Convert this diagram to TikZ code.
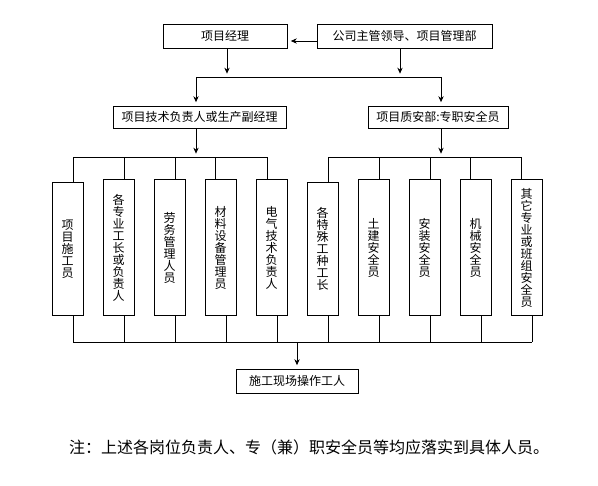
\documentclass[tikz,border=0pt]{standalone}
\usepackage{fontspec}
\setmainfont{Noto Sans CJK SC}
\usetikzlibrary{arrows.meta}
\newcommand\tightlines{\lineskiplimit=-9pt\relax}

\begin{document}
\begin{tikzpicture}[x=0.75pt,y=-0.75pt,line width=0.7pt,
        box/.style={draw,inner sep=0pt,font=\fontsize{9}{9}\selectfont},
        col/.style={draw,inner sep=0pt,anchor=south,minimum width=23.25pt,align=center,
            font=\fontsize{9}{9}\selectfont\tightlines},
        arr/.style={->,>={Stealth[length=4.5pt,width=4pt]},shorten >=2.5pt}]
            \useasboundingbox (0,0) rectangle (598,485);
            \node[box,minimum width=93pt,minimum height=18pt] at (225,36)(pm){项目经理};
            \node[box,minimum width=131.25pt,minimum height=18pt] at (404.5,36)(lead){公司主管领导、项目管理部};
            \node[box,minimum width=129.75pt,minimum height=16.5pt] at (199.5,117)(tech){项目技术负责人或生产副经理};
            \node[box,minimum width=105pt,minimum height=16.5pt] at (438,117)(safety){项目质安部:专职安全员};
            \node[box,minimum width=91.5pt,minimum height=18pt] at (297,381)(work){施工现场操作工人};
            \coordinate (busL) at (196,77);
            \coordinate (busR) at (441,77);
            \coordinate (grpLa) at (73,157);
            \coordinate (grpLb) at (267,157);
            \coordinate (grpRa) at (328,157);
            \coordinate (grpRb) at (522,157);
            \coordinate (botA) at (73,342);
            \coordinate (botB) at (532,342);
            % top level
            \path[draw,arr] ([yshift=-3.75pt]lead.west) -- ([yshift=-3.75pt]pm.east);
            \path[draw,arr] (pm.south -| 227,0) -- (busL -| 227,0);
            \path[draw,arr] (lead.south -| 400,0) -- (busL -| 400,0);
            \draw (busL) -- (busR);
            \path[draw,arr] (busL) -- (tech.north -| busL);
            \path[draw,arr] (busR) -- (safety.north -| busR);
            \path[draw,arr] (tech.south -| busL) -- (grpLa -| busL);
            \path[draw,arr] (safety.south -| busR) -- (grpRa -| busR);
            \draw (grpLa) -- (grpLb);
            \draw (grpRa) -- (grpRb);
            \draw (botA) -- (botB);
            \foreach \i/\x/\ty/\dx/\t in {1/67.5/183/5.5/{项\\目\\施\\工\\员},
                    2/118.5/180/5.5/{各\\专\\业\\工\\长\\或\\负\\责\\人},
                    3/169.5/180/5.5/{劳\\务\\管\\理\\人\\员},
                    4/220.5/180/-5.5/{材\\料\\设\\备\\管\\理\\员},
                    5/271.5/180/-4.5/{电\\气\\技\\术\\负\\责\\人},
                    6/322.5/183/5.5/{各\\特\\殊\\工\\种\\工\\长},
                    7/373.5/180/5.5/{土\\建\\安\\全\\员},
                    8/424.5/180/5.5/{安\\装\\安\\全\\员},
                    9/475.5/180/-5.5/{机\\械\\安\\全\\员},
                    10/526.5/180/-5.5/{其\\它\\专\\业\\或\\班\\组\\安\\全\\员}}{
                \node[col,minimum height={(316-\ty)*0.75pt}] at (\x,316)(c\i){\t};
                \pgfmathsetmacro{\xt}{\x+\dx}
                \pgfmathsetmacro{\xb}{\x+5.5}
                \draw (\xt,157) -- (c\i.north -| \xt,0);
                \draw (c\i.south -| \xb,0) -- (\xb,342);
            }
            \path[draw,arr] (work.north |- botA) -- (work.north);
            \node[font=\fontsize{12}{12}\selectfont] at (309,447)(note){注：上述各岗位负责人、专（兼）职安全员等均应落实到具体人员。};
\end{tikzpicture}
\end{document}
